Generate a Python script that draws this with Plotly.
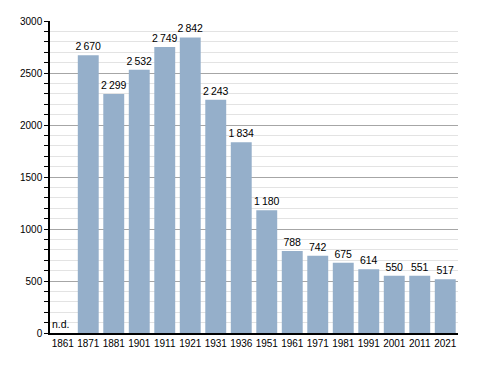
import plotly.graph_objects as go

years = ["1861", "1871", "1881", "1901", "1911", "1921", "1931", "1936",
         "1951", "1961", "1971", "1981", "1991", "2001", "2011", "2021"]
population = [None, 2670, 2299, 2532, 2749, 2842, 2243, 1834,
              1180, 788, 742, 675, 614, 550, 551, 517]
missing_label = "n.d."

def fmt(v):
    if v is None:
        return ""
    s = f"{v:,}".replace(",", "\u2009")
    return s

labels = [fmt(v) for v in population]
FONT = "Liberation Sans, Arial, sans-serif"

fig = go.Figure()
fig.add_trace(go.Bar(
    x=years, y=population, text=labels, textposition="outside",
    textfont=dict(family=FONT, size=10.5, color="black"),
    constraintext="none", textangle=0,
    marker=dict(color="#95AFCA", line=dict(width=0)),
    cliponaxis=False, hoverinfo="skip",
))

fig.add_annotation(x=0, y=0, text=missing_label, showarrow=False,
                   xref="x", yref="y", yanchor="bottom", xanchor="center",
                   yshift=1, xshift=-2,
                   font=dict(family=FONT, size=10.5, color="black"))

fig.update_layout(
    width=480, height=365,
    margin=dict(l=42, r=30, t=13, b=40),
    paper_bgcolor="white", plot_bgcolor="white",
    bargap=0.18, showlegend=False,
    font=dict(family=FONT, size=10, color="black"),
)
fig.update_xaxes(
    type="category", range=[-0.5, len(years) - 0.5], automargin=False,
    showline=True, linecolor="black", linewidth=1.5, tickangle=0,
    ticks="", showgrid=False, tickfont=dict(size=10),
)
fig.update_yaxes(
    range=[0, 3000], dtick=500, automargin=False,
    showline=True, linecolor="black", linewidth=1.5,
    ticks="outside", ticklen=4, tickcolor="black", tickwidth=1,
    showgrid=True, gridcolor="#A6A6A6", gridwidth=1, zeroline=False,
    tickfont=dict(size=10),
    minor=dict(dtick=100, ticks="outside", ticklen=4, tickcolor="black",
               showgrid=True, gridcolor="#E3E3E3", gridwidth=1),
)

fig.write_html("out.html")
